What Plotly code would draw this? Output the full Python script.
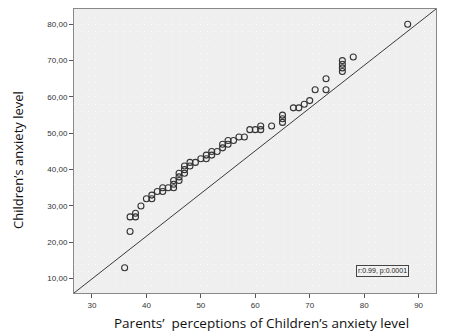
import plotly.graph_objects as go

# Data
parents = [36, 37, 37, 38, 38, 39, 40, 41, 41, 42, 43, 43, 44,
           45, 45, 45, 46, 46, 46, 47, 47, 47, 48, 48, 49, 50,
           51, 51, 52, 52, 53, 54, 54, 55, 55, 56, 57, 58, 59,
           60, 61, 61, 63, 65, 65, 65, 67, 68, 69, 70, 71, 73,
           73, 76, 76, 76, 76, 78, 88]
children = [13, 23, 27, 27, 28, 30, 32, 32, 33, 34, 34, 35, 35,
            35, 36, 37, 37, 38, 39, 39, 40, 41, 41, 42, 42, 43,
            43, 44, 44, 45, 45, 46, 47, 47, 48, 48, 49, 49, 51,
            51, 51, 52, 52, 53, 54, 55, 57, 57, 58, 59, 62, 62,
            65, 67, 68, 69, 70, 71, 80]

line_x = [26.7, 93.2]
line_y = [6.06, 84.2]

x_ticks = [30, 40, 50, 60, 70, 80, 90]
y_ticks = [10, 20, 30, 40, 50, 60, 70, 80]
y_ticklabels = ["10,00", "20,00", "30,00", "40,00", "50,00", "60,00", "70,00", "80,00"]

x_range = [26.7, 93.2]
y_range = [6.06, 84.2]

fig = go.Figure()
fig.add_trace(go.Scatter(x=line_x, y=line_y, mode="lines",
                         line=dict(color="#3a3a3a", width=1), hoverinfo="skip"))
fig.add_trace(go.Scatter(x=parents, y=children, mode="markers",
                         marker=dict(symbol="circle-open", size=6,
                                     color="#333333", line=dict(width=1.1))))

fig.add_annotation(x=0.925, y=0.076, xref="paper", yref="paper",
                   xanchor="right", yanchor="middle",
                   text="r:0.99, p:0.0001", showarrow=False,
                   font=dict(family="Liberation Sans, Arial", size=7, color="#222"),
                   bordercolor="#444", borderwidth=1, borderpad=1, bgcolor="#f2f2f2")

fig.add_annotation(x=-0.155, y=0.468, xref="paper", yref="paper",
                   xanchor="center", yanchor="middle", textangle=-90,
                   text="Children’s anxiety level", showarrow=False,
                   font=dict(family="Open Sans, Liberation Sans", size=13, color="#111"))

fig.add_annotation(x=0.519, y=-0.106, xref="paper", yref="paper",
                   xanchor="center", yanchor="middle",
                   text="Parents’  perceptions of Children’s anxiety level", showarrow=False,
                   font=dict(family="Open Sans, Liberation Sans", size=13.5, color="#111"))

fig.update_layout(
    width=454, height=336,
    margin=dict(l=74, r=18, t=9, b=43),
    paper_bgcolor="white", plot_bgcolor="#efefef",
    showlegend=False,
    font=dict(family="Liberation Sans, Arial", color="#333"),
)
fig.update_xaxes(range=x_range, tickvals=x_ticks, ticks="outside", ticklen=4,
                 tickcolor="#555", showgrid=False, zeroline=False,
                 showline=True, linecolor="#888", mirror=True, linewidth=1,
                 tickfont=dict(size=8, color="#333"))
fig.update_yaxes(range=y_range, tickvals=y_ticks, ticktext=y_ticklabels,
                 ticks="outside", ticklen=4, tickcolor="#555",
                 showgrid=False, zeroline=False,
                 showline=True, linecolor="#888", mirror=True, linewidth=1,
                 tickfont=dict(size=8, color="#333"),
                 minor=dict(dtick=2, tick0=0, showgrid=True, gridcolor="#fbfbfb",
                            griddash="1px,6px", gridwidth=1, ticks=""))

fig.write_html("out.html")
